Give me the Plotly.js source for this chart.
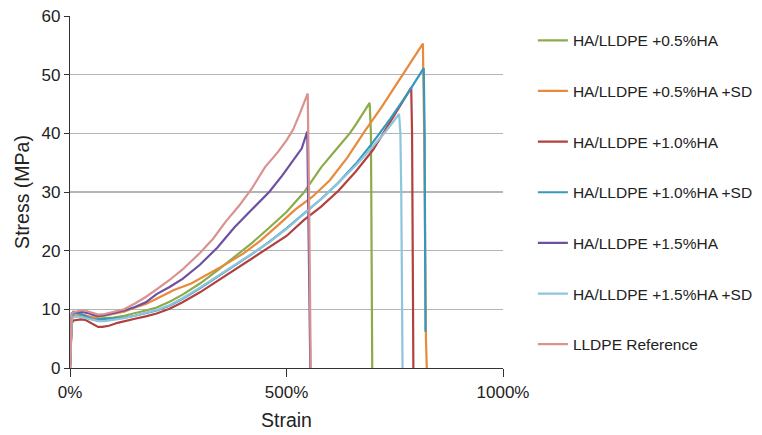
<!DOCTYPE html>
<html>
<head>
<meta charset="utf-8">
<script src="https://cdn.plot.ly/plotly-3.0.1.min.js"></script>
<style>html,body{margin:0;padding:0;background:#fff;}#chart{width:762px;height:435px;}</style>
</head>
<body>
<div id="chart"></div>
<script>
// Series names
const seriesNames = [
  "HA/LLDPE +0.5%HA",
  "HA/LLDPE +0.5%HA +SD",
  "HA/LLDPE +1.0%HA",
  "HA/LLDPE +1.0%HA +SD",
  "HA/LLDPE +1.5%HA",
  "HA/LLDPE +1.5%HA +SD",
  "LLDPE Reference"
];

// Strain (%) and stress (MPa)
const greenStrain = [0,2,4,8,15,25,35,45,55,65,80,100,125,150,175,200,230,260,300,340,380,420,460,500,540,580,620,646,660,692,695,697,698];
const greenStress = [0,5,8.3,8.7,8.8,9.0,8.9,8.6,8.4,8.4,8.5,8.6,8.9,9.3,9.8,10.3,11.3,12.5,14.4,16.6,18.9,21.3,23.9,26.6,29.9,34.2,37.7,40.0,41.5,45.2,40,20,0];

const orangeStrain = [0,2,4,8,15,25,35,45,55,65,80,100,125,150,175,200,240,280,320,360,400,440,480,520,560,600,640,680,720,760,790,815,818,820,822,824];
const orangeStress = [0,5,8.4,8.8,9.0,9.2,9.0,8.8,8.6,8.7,8.9,9.2,9.6,10.3,10.9,11.8,13.3,14.4,16.0,17.7,19.5,21.7,24.3,27.0,29.2,32.0,35.8,40.3,44.5,49.0,52.3,55.3,40,15,5,0];

const redStrain = [0,2,4,8,15,25,35,45,55,65,75,90,110,130,150,175,200,230,260,300,340,380,420,460,500,540,580,620,660,700,740,770,788,790,792,793];
const redStress = [0,4.5,7.6,8.1,8.2,8.3,8.2,7.8,7.3,7.0,7.0,7.2,7.7,8.1,8.4,8.8,9.3,10.1,11.2,12.9,14.8,16.8,18.6,20.6,22.5,25.2,27.5,30.2,33.5,37.2,42.0,45.5,47.8,40,20,0];

const cyanStrain = [0,2,4,8,15,25,35,45,55,65,80,100,125,150,175,200,230,260,300,340,380,420,460,500,540,580,620,660,700,740,780,817,819,820,821];
const cyanStress = [0,5,8.6,9.2,9.4,9.2,8.9,8.5,8.2,8.3,8.4,8.5,8.6,8.9,9.4,9.8,10.6,11.8,13.6,15.5,17.5,19.4,21.5,23.8,26.3,28.8,31.6,34.8,38.5,42.5,46.8,51.1,40,20,6.2];

const purpleStrain = [0,2,4,8,15,25,35,45,55,65,80,100,125,150,175,200,230,260,300,340,380,420,460,490,520,535,548,550,553,555];
const purpleStress = [0,5.5,9.3,9.6,9.5,9.6,9.5,9.3,9.0,8.9,9.0,9.3,9.8,10.4,11.2,12.6,13.8,15.2,17.6,20.5,24.0,27.0,30.0,32.8,35.8,37.4,40.3,30,10,0];

const lightStrain = [0,2,4,8,15,25,35,45,55,65,80,100,125,150,175,200,230,260,300,340,380,420,460,500,540,580,620,660,700,730,760,763,765,766,768];
const lightStress = [0,4.8,8.2,8.7,8.8,8.7,8.5,8.3,8.1,8.0,8.0,8.2,8.5,8.9,9.4,9.9,10.7,11.9,13.7,15.6,17.5,19.4,21.4,23.7,26.2,28.8,31.6,34.5,37.8,40.4,43.3,40,30,10,0];

const pinkStrain = [0,2,4,8,15,25,35,45,55,65,80,100,125,150,175,200,230,260,300,330,360,390,420,450,480,500,515,531,549,552,556];
const pinkStress = [0,5.5,9.2,9.5,9.6,9.8,9.8,9.6,9.3,9.1,9.2,9.5,10.0,11.0,12.1,13.4,15.0,16.8,19.6,22.0,25.0,27.6,30.6,34.2,36.8,38.8,40.6,43.4,46.8,30,0];

const xTickVals = [0, 500, 1000];
const xTickText = ["0%", "500%", "1000%"];

const strains = [greenStrain, orangeStrain, redStrain, cyanStrain, purpleStrain, lightStrain, pinkStrain];
const stresses = [greenStress, orangeStress, redStress, cyanStress, purpleStress, lightStress, pinkStress];
const colors = ["#8cab4a", "#e8893b", "#b1403f", "#3798bd", "#6d50a0", "#8ec5dc", "#d99290"];

const traces = seriesNames.map((name, i) => ({
  type: "scatter",
  mode: "lines",
  name: name,
  x: strains[i],
  y: stresses[i],
  legendgroup: "g" + i,
  line: {color: colors[i], width: 2.2},
  hoverinfo: "skip"
}));

const layout = {
  width: 762,
  height: 435,
  margin: {l: 70, r: 259, t: 16, b: 67, autoexpand: false},
  paper_bgcolor: "#ffffff",
  plot_bgcolor: "#ffffff",
  font: {family: "Liberation Sans, Arial, sans-serif", color: "#222", size: 17},
  showlegend: true,
  legend: {
    x: 1.069, xanchor: "left",
    y: 0.978, yanchor: "top",
    font: {size: 15.5, color: "#222"},
    tracegroupgap: 27.5,
    traceorder: "grouped",
    bgcolor: "rgba(0,0,0,0)"
  },
  xaxis: {
    range: [0, 1000],
    tickvals: xTickVals,
    ticktext: xTickText,
    ticks: "outside",
    ticklen: 8,
    tickcolor: "#333",
    showline: true,
    linecolor: "#333",
    linewidth: 1.2,
    showgrid: false,
    zeroline: false,
    tickfont: {size: 17},
    title: {text: "Strain", font: {size: 19.5}, standoff: 12}
  },
  yaxis: {
    range: [0, 60],
    dtick: 10,
    ticks: "outside",
    ticklen: 5,
    tickcolor: "#333",
    showline: true,
    linecolor: "#333",
    linewidth: 1.2,
    showgrid: true,
    gridcolor: "#b4b4b4",
    gridwidth: 1.2,
    zeroline: false,
    tickfont: {size: 17},
    title: {text: "Stress (MPa)", font: {size: 19.5}, standoff: 6}
  }
};

Plotly.newPlot("chart", traces, layout, {staticPlot: true, displayModeBar: false});
</script>
</body>
</html>
